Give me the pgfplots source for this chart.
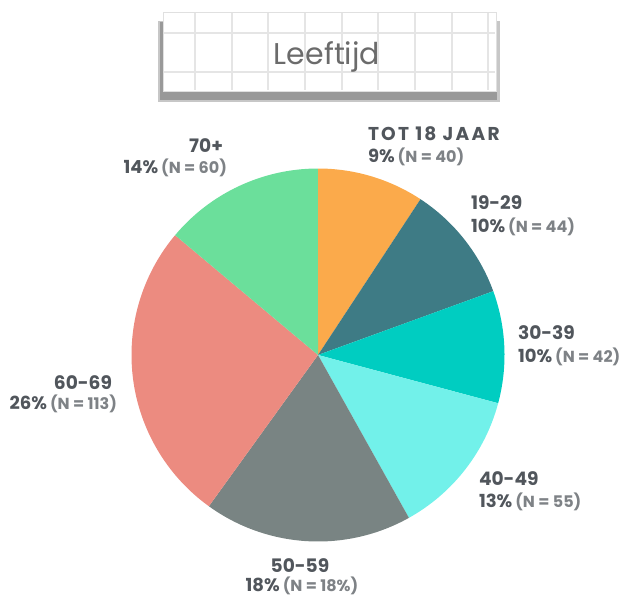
\documentclass[border=0pt]{standalone}
\usepackage{pgfplots}
\usepackage{pgfplotstable}
\usepackage{fontspec}
\setmainfont{Poppins}
\pgfplotsset{compat=1.18}

\definecolor{cTot}{HTML}{FBAA4B}
\definecolor{cA}{HTML}{3E7B85}
\definecolor{cB}{HTML}{00CDC1}
\definecolor{cC}{HTML}{72F1EA}
\definecolor{cD}{HTML}{798483}
\definecolor{cE}{HTML}{EC8B80}
\definecolor{cF}{HTML}{6BDF9B}
\definecolor{donker}{HTML}{51565C}
\definecolor{licht}{HTML}{7E8286}
\definecolor{titel}{HTML}{6B6B6B}

% aantallen per leeftijdsgroep (N); 50-59 geschat uit de hoek van het stuk
\pgfplotstableread{
groep  n    kleur
tot18  40   cTot
1929   44   cA
3039   42   cB
4049   55   cC
5059   78   cD
6069   113  cE
70plus 60   cF
}\leeftijd

\newcommand\eerste[1]{\fontsize{9.3}{11}\selectfont\bfseries\color{donker}#1}
\newcommand\tweede[2]{\fontsize{9}{11}\selectfont\bfseries\color{donker}#1\,{\fontsize{8}{9}\selectfont\color{licht}#2}}
\tikzset{lab/.style={inner sep=0pt, outer sep=0pt}}

\begin{document}
\begin{tikzpicture}
\begin{axis}[
    x=0.5pt, y=0.5pt,
    xmin=0, xmax=620, ymin=0, ymax=601,
    hide axis, clip=false,
]
% titelkaartje
\fill[black!22] (axis cs:158,499) rectangle (axis cs:500,580);
\fill[black!40] (axis cs:160,501) rectangle (axis cs:497,579);
\fill[white, draw=black!12] (axis cs:163,510) rectangle (axis cs:496,589);
\pgfplotsinvokeforeach{195,232,268,305,342,378,415,452,488}{
  \draw[black!10, line width=0.6pt] (axis cs:#1,511) -- (axis cs:#1,588);}
\pgfplotsinvokeforeach{529,568}{
  \draw[black!10, line width=0.6pt] (axis cs:164,#1) -- (axis cs:495,#1);}
\node[lab, anchor=base, font=\fontsize{15}{17}\selectfont, text=titel] at (axis cs:327,536) {Leeftijd};

% taartpunten, met de klok mee vanaf boven
\def\tot{0}
\pgfplotsforeachungrouped \i in {0,...,6}{%
  \pgfplotstablegetelem{\i}{n}\of\leeftijd
  \pgfmathsetmacro\tot{\tot+\pgfplotsretval}}
\def\a{90}
\pgfplotsforeachungrouped \i in {0,...,6}{%
  \pgfplotstablegetelem{\i}{n}\of\leeftijd
  \pgfmathsetmacro\b{\a-\pgfplotsretval/\tot*360}
  \pgfplotstablegetelem{\i}{kleur}\of\leeftijd
  \edef\temp{\noexpand\fill[\pgfplotsretval] (axis cs:318,246) -- (axis cs:{318+186.5*cos(\a)},{246+186.5*sin(\a)}) arc[start angle=\a, end angle=\b, radius=93.25pt] -- cycle;}
  \temp
  \global\let\a=\b
}

% labels
\node[lab, anchor=base west] at (axis cs:368,460) {\eerste{\addfontfeatures{LetterSpace=12}TOT 18 JAAR}};
\node[lab, anchor=base west] at (axis cs:368,438) {\tweede{9\%}{(N = 40)}};
\node[lab, anchor=base west] at (axis cs:471,392) {\eerste{19-29}};
\node[lab, anchor=base west] at (axis cs:471,369) {\tweede{10\%}{(N = 44)}};
\node[lab, anchor=base west] at (axis cs:518,262) {\eerste{30-39}};
\node[lab, anchor=base west] at (axis cs:518,239) {\tweede{10\%}{(N = 42)}};
\node[lab, anchor=base west] at (axis cs:479,116) {\eerste{40-49}};
\node[lab, anchor=base west] at (axis cs:479,94) {\tweede{13\%}{(N = 55)}};
\node[lab, anchor=base] at (axis cs:300,29) {\eerste{50-59}};
\node[lab, anchor=base] at (axis cs:302,10) {\tweede{18\%}{(N = 18\%)}};
\node[lab, anchor=base east] at (axis cs:112,212) {\eerste{60-69}};
\node[lab, anchor=base east] at (axis cs:117,192) {\tweede{26\%}{(N = 113)}};
\node[lab, anchor=base east] at (axis cs:223,449) {\eerste{70+}};
\node[lab, anchor=base east] at (axis cs:227,428) {\tweede{14\%}{(N = 60)}};
\end{axis}
\pgfresetboundingbox
\path (0,0) rectangle (310pt,300.5pt);
\end{tikzpicture}
\end{document}
